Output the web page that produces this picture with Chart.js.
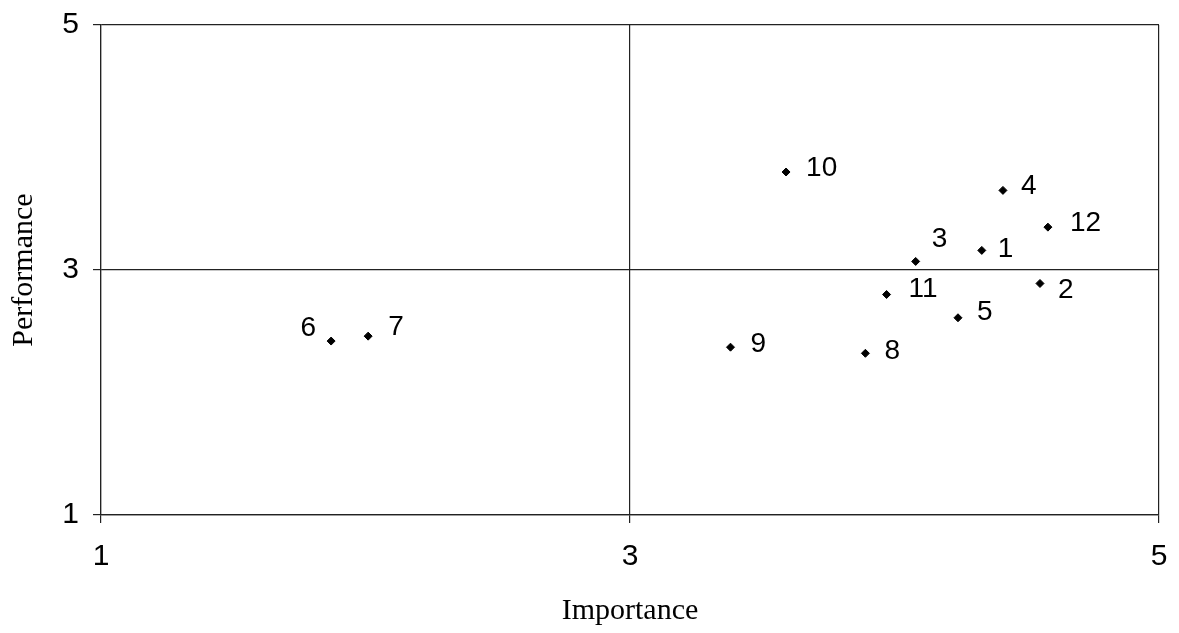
<!DOCTYPE html>
<html>
<head>
<meta charset="utf-8">
<script src="https://cdn.jsdelivr.net/npm/chart.js@4.4.1/dist/chart.umd.min.js"></script>
<style>
  html, body { margin: 0; padding: 0; background: #fff; }
  #wrap { width: 1179px; height: 633px; }
</style>
</head>
<body>
<div id="wrap"><canvas id="myChart" width="1179" height="633"></canvas></div>
<script>
const pointLabels = ["1", "2", "3", "4", "5", "6", "7", "8", "9", "10", "11", "12"];
const importance = [4.33, 4.55, 4.08, 4.41, 4.24, 1.87, 2.01, 3.89, 3.38, 3.59, 3.97, 4.58];
const performance = [3.16, 2.89, 3.07, 3.65, 2.61, 2.42, 2.46, 2.32, 2.37, 3.80, 2.80, 3.35];
const tickValues = [1, 3, 5];

// label offsets (px) from each marker, left edge / vertical centre
const labelDx = [16, 18, 16, 18, 19, -15, 20, 19, 20, 20, 22, 22];
const labelDy = [-1, 7, -22, -4, -5, -13, -9, -2, -3, -4, -5, -4];

const labelPlugin = {
  id: "pointText",
  afterDatasetsDraw(chart) {
    const ctx = chart.ctx;
    const meta = chart.getDatasetMeta(0);
    ctx.save();
    ctx.font = "28px 'Liberation Sans', Arial, sans-serif";
    ctx.fillStyle = "#000";
    ctx.textBaseline = "middle";
    meta.data.forEach((pt, i) => {
      const dx = labelDx[i];
      ctx.textAlign = dx < 0 ? "right" : "left";
      ctx.fillText(pointLabels[i], pt.x + dx, pt.y + labelDy[i]);
    });
    ctx.restore();
  }
};

const ctx = document.getElementById("myChart").getContext("2d");
const myChart = new Chart(ctx, {
  type: "scatter",
  data: {
    datasets: [
      {
        label: "items",
        data: importance.map((v, i) => ({ x: v, y: performance[i] })),
        backgroundColor: "#000",
        borderColor: "#000",
        pointStyle: "rectRot",
        pointRadius: 4,
        pointHoverRadius: 4
      }
    ]
  },
  options: {
    responsive: false,
    animation: false,
    layout: { padding: { left: 0, right: 20, top: 25, bottom: 0 } },
    plugins: { legend: { display: false }, tooltip: { enabled: false } },
    scales: {
      x: {
        min: 1,
        max: 5,
        afterBuildTicks: (s) => { s.ticks = tickValues.map(v => ({ value: v })); },
        afterFit: (s) => { s.height = 118; s.paddingLeft = 0; s.paddingRight = 0; },
        grid: { color: "#222", lineWidth: 1.2, tickLength: 8, drawTicks: true },
        border: { color: "#222", width: 1.2 },
        ticks: {
          color: "#000",
          padding: 16,
          font: { family: "'Liberation Sans', Arial, sans-serif", size: 30 }
        },
        title: {
          display: true,
          text: "Importance",
          color: "#000",
          padding: { top: 0, bottom: 4 },
          font: { family: "'Liberation Serif', 'Times New Roman', serif", size: 30 }
        }
      },
      y: {
        min: 1,
        max: 5,
        afterBuildTicks: (s) => { s.ticks = tickValues.map(v => ({ value: v })); },
        afterFit: (s) => { s.width = 101; s.paddingTop = 0; s.paddingBottom = 0; },
        grid: { color: "#222", lineWidth: 1.2, tickLength: 8, drawTicks: true },
        border: { color: "#222", width: 1.2 },
        ticks: {
          color: "#000",
          padding: 14,
          font: { family: "'Liberation Sans', Arial, sans-serif", size: 30 }
        },
        title: {
          display: true,
          text: "Performance",
          color: "#000",
          padding: { top: 6, bottom: 0 },
          font: { family: "'Liberation Serif', 'Times New Roman', serif", size: 30 }
        }
      }
    }
  },
  plugins: [labelPlugin]
});
</script>
</body>
</html>
